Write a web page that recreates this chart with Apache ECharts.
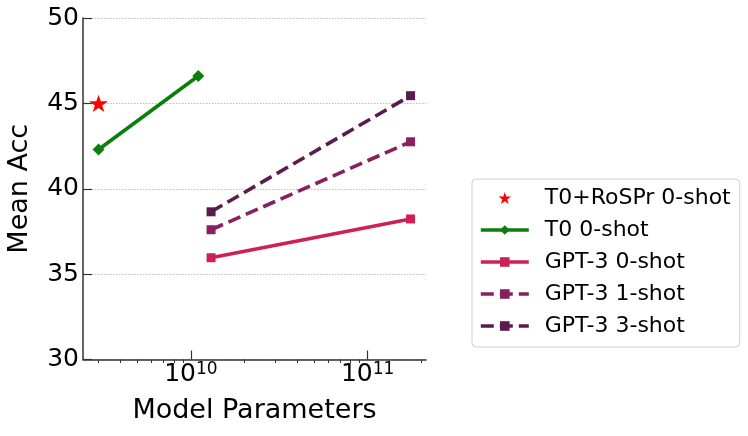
<!DOCTYPE html>
<html>
<head>
<meta charset="utf-8">
<script src="https://cdn.jsdelivr.net/npm/echarts@6/dist/echarts.min.js"></script>
<style>
	html, body {margin: 0; padding: 0; background: #fff;}
	#chart {width: 748px; height: 436px;}
</style>
</head>
<body>
<div id="chart"></div>
<script>
//	data (x = model parameters, y = mean acc)
var roSPrX = [3e9],
	roSPrY = [45.0];
var t0X = [3e9, 11e9],
	t0Y = [42.3, 46.6];
var gptX = [13e9, 175e9],
	gpt0Y = [35.96, 38.23],
	gpt1Y = [37.6, 42.75],
	gpt3Y = [38.65, 45.45];
var yTicks = [30, 35, 40, 45, 50];
var xMajor = [1e10, 1e11];
var xMinor = [3e9, 4e9, 5e9, 6e9, 7e9, 8e9, 9e9,
	2e10, 3e10, 4e10, 5e10, 6e10, 7e10, 8e10, 9e10, 2e11];
var names = ['T0+RoSPr 0-shot', 'T0 0-shot', 'GPT-3 0-shot', 'GPT-3 1-shot', 'GPT-3 3-shot'];

function pairs(xs, ys) {
	var out = [];
	for(var i=0; i<xs.length; i++) out.push([xs[i], ys[i]]);
	return out;
}

var starPath = 'path://M50,0 L61.2,34.5 L97.6,34.5 L68.2,55.9 L79.4,90.5 L50,69.1 L20.6,90.5 L31.8,55.9 L2.4,34.5 L38.8,34.5 Z';
var axisCol = '#333';
var font = 'DejaVu Sans';
var lw = 3.6,
	dash = [13, 6];

var myChart = echarts.init(document.getElementById('chart'), null, {renderer: 'canvas'});

var option = {
	animation: false,
	textStyle: {fontFamily: font},
	grid: {left: 83, right: 322, top: 18, bottom: 76.5},
	legend: {
		orient: 'vertical',
		left: 472,
		top: 179,
		padding: [8, 9, 10, 7],
		itemGap: 10,
		itemWidth: 48,
		itemHeight: 12,
		borderColor: '#d0d0d0',
		borderWidth: 1,
		borderRadius: 4,
		backgroundColor: '#fff',
		lineStyle: {width: lw},
		textStyle: {fontSize: 22, color: '#000', fontFamily: font, padding: [0, 0, 0, 11]},
		data: names
	},
	xAxis: [
		{
			type: 'log',
			logBase: 10,
			min: 2.45e9,
			max: 2.14e11,
			position: 'bottom',
			name: 'Model Parameters',
			nameLocation: 'middle',
			nameGap: 38,
			nameTextStyle: {fontSize: 27, color: '#000', fontFamily: font},
			axisLine: {show: true, lineStyle: {color: axisCol, width: 1.5}},
			axisTick: {show: true, inside: true, length: 9, customValues: xMajor,
				lineStyle: {color: axisCol, width: 1.2}},
			axisLabel: {
				customValues: xMajor,
				margin: 2,
				color: '#000',
				formatter: function(v) {
					return '{b|10}{s|' + Math.round(Math.log10(v)) + '}';
				},
				rich: {
					b: {fontSize: 25, lineHeight: 25, fontFamily: font, color: '#000', verticalAlign: 'top'},
					s: {fontSize: 17, lineHeight: 17, fontFamily: font, color: '#000', verticalAlign: 'top'}
				}
			},
			splitLine: {show: false},
			minorTick: {show: false}
		},
		{
			//	minor ticks only, pointing out like matplotlib
			type: 'log',
			logBase: 10,
			min: 2.45e9,
			max: 2.14e11,
			position: 'bottom',
			axisLine: {show: false},
			axisTick: {show: true, inside: false, length: 3.5, customValues: xMinor,
				lineStyle: {color: axisCol, width: 1}},
			axisLabel: {show: false},
			splitLine: {show: false}
		}
	],
	yAxis: {
		type: 'value',
		min: 30,
		max: 50,
		interval: 5,
		name: 'Mean Acc',
		nameLocation: 'middle',
		nameGap: 50,
		nameTextStyle: {fontSize: 27, color: '#000', fontFamily: font},
		axisLine: {show: true, lineStyle: {color: axisCol, width: 1.5}},
		axisTick: {show: true, inside: true, length: 9, lineStyle: {color: axisCol, width: 1.2}},
		axisLabel: {
			fontSize: 25,
			color: '#000',
			margin: 4,
			customValues: yTicks
		},
		splitLine: {show: true, lineStyle: {color: '#bdbdbd', type: [1.5, 1.5], width: 1}}
	},
	series: [
		{
			name: names[0],
			type: 'scatter',
			data: pairs(roSPrX, roSPrY),
			symbol: starPath,
			symbolSize: [19, 18],
			symbolKeepAspect: true,
			itemStyle: {color: '#ff0000', opacity: 1},
			z: 5
		},
		{
			name: names[1],
			type: 'line',
			data: pairs(t0X, t0Y),
			symbol: 'diamond',
			symbolSize: [12, 12],
			lineStyle: {color: '#0a800a', width: lw},
			itemStyle: {color: '#0a800a'}
		},
		{
			name: names[2],
			type: 'line',
			data: pairs(gptX, gpt0Y),
			symbol: 'rect',
			symbolSize: 9,
			lineStyle: {color: '#cc2157', width: lw},
			itemStyle: {color: '#cc2157'}
		},
		{
			name: names[3],
			type: 'line',
			data: pairs(gptX, gpt1Y),
			symbol: 'rect',
			symbolSize: 9,
			lineStyle: {color: '#87215f', width: lw, type: dash},
			itemStyle: {color: '#87215f'}
		},
		{
			name: names[4],
			type: 'line',
			data: pairs(gptX, gpt3Y),
			symbol: 'rect',
			symbolSize: 9,
			lineStyle: {color: '#5c1b4f', width: lw, type: dash},
			itemStyle: {color: '#5c1b4f'}
		}
	]
};

myChart.setOption(option);
</script>
</body>
</html>
